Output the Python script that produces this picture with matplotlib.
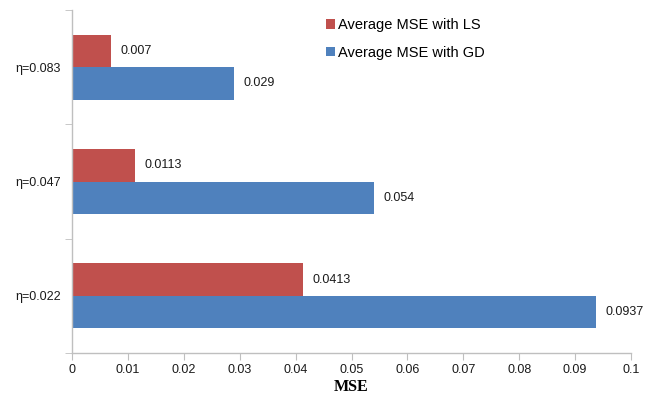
import matplotlib
matplotlib.use("Agg")
import matplotlib.pyplot as plt
import numpy as np

categories = ["η=0.022", "η=0.047", "η=0.083"]
mse_ls = [0.0413, 0.0113, 0.007]
mse_gd = [0.0937, 0.054, 0.029]
ls_labels = ["0.0413", "0.0113", "0.007"]
gd_labels = ["0.0937", "0.054", "0.029"]
x_ticks = [0, 0.01, 0.02, 0.03, 0.04, 0.05, 0.06, 0.07, 0.08, 0.09, 0.1]
x_tick_labels = ["0", "0.01", "0.02", "0.03", "0.04", "0.05", "0.06", "0.07", "0.08", "0.09", "0.1"]

plt.rcParams["font.family"] = ["Liberation Sans", "DejaVu Sans"]

red = "#C0504D"
blue = "#4F81BD"
axis_grey = "#BFBFBF"

fig = plt.figure(figsize=(6.5, 3.94), dpi=100)
ax = fig.add_axes([72 / 650, 1 - 353 / 394, (631 - 72) / 650, (353 - 10) / 394])

y = np.arange(len(categories))
h = 0.284
bars_ls = ax.barh(y + h / 2, mse_ls, height=h, color=red, label="Average MSE with LS")
bars_gd = ax.barh(y - h / 2, mse_gd, height=h, color=blue, label="Average MSE with GD")

ax.bar_label(bars_ls, labels=ls_labels, padding=7, fontsize=9, color="#1a1a1a")
ax.bar_label(bars_gd, labels=gd_labels, padding=7, fontsize=9, color="#1a1a1a")

ax.set_xlim(0, 0.1)
ax.set_ylim(-0.5, len(categories) - 0.5)
ax.set_xticks(x_ticks)
ax.set_xticklabels(x_tick_labels, fontsize=9, color="#1a1a1a")

# category labels centred, tick marks on category boundaries
ax.set_yticks(y)
ax.set_yticklabels(categories, fontsize=9, color="#1a1a1a")
ax.tick_params(axis="y", which="major", length=0, pad=8)
ax.set_yticks(np.arange(-0.5, len(categories), 1.0), minor=True)
ax.tick_params(axis="y", which="minor", length=5, color=axis_grey, direction="out")
ax.tick_params(axis="x", length=5, color=axis_grey, direction="out", pad=3)

for side in ("top", "right"):
    ax.spines[side].set_visible(False)
for side in ("left", "bottom"):
    ax.spines[side].set_color(axis_grey)
    ax.spines[side].set_linewidth(1.0)

ax.set_xlabel("MSE", fontsize=11.5, fontweight="bold", family=["Liberation Serif"], labelpad=2)

ax.legend(loc="upper left", bbox_to_anchor=(326 / 650, 1 - 18 / 394), bbox_transform=fig.transFigure,
          frameon=False, fontsize=10.5, handlelength=0.62, handleheight=0.62, handletextpad=0.2,
          labelspacing=0.95, borderaxespad=0, borderpad=0)

fig.savefig("out.png", dpi=100)
